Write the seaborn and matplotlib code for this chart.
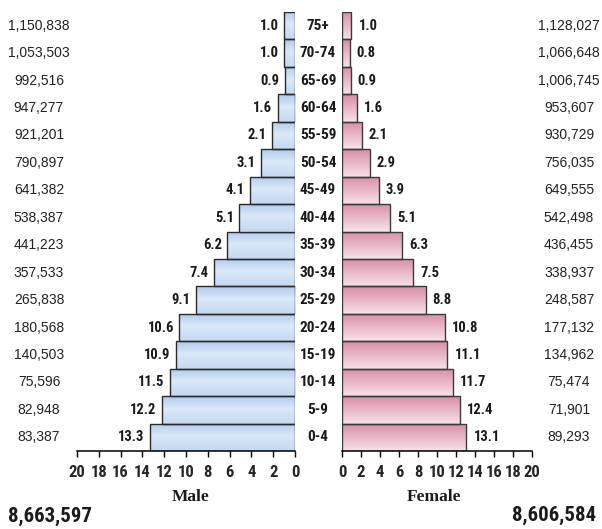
import matplotlib
matplotlib.use("Agg")
import matplotlib.pyplot as plt
import matplotlib.transforms as mtransforms
import matplotlib.font_manager as fm
import numpy as np
import pandas as pd
import seaborn as sns

ages = ["75+", "70-74", "65-69", "60-64", "55-59", "50-54", "45-49", "40-44",
        "35-39", "30-34", "25-29", "20-24", "15-19", "10-14", "5-9", "0-4"]
male_pct = [1.0, 1.0, 0.9, 1.6, 2.1, 3.1, 4.1, 5.1, 6.2, 7.4, 9.1, 10.6, 10.9, 11.5, 12.2, 13.3]
female_pct = [1.0, 0.8, 0.9, 1.6, 2.1, 2.9, 3.9, 5.1, 6.3, 7.5, 8.8, 10.8, 11.1, 11.7, 12.4, 13.1]
male_pop = ["1,150,838", "1,053,503", "992,516", "947,277", "921,201", "790,897", "641,382",
            "538,387", "441,223", "357,533", "265,838", "180,568", "140,503", "75,596",
            "82,948", "83,387"]
female_pop = ["1,128,027", "1,066,648", "1,006,745", "953,607", "930,729", "756,035", "649,555",
              "542,498", "436,455", "338,937", "248,587", "177,132", "134,962", "75,474",
              "71,901", "89,293"]
male_total = "8,663,597"
female_total = "8,606,584"
ticks = [0, 2, 4, 6, 8, 10, 12, 14, 16, 18, 20]

sns.set_style("white")

# pick a condensed sans if one is installed
installed = {f.name for f in fm.fontManager.ttflist}
narrow = None
for cand in ["Liberation Sans Narrow", "Roboto Condensed", "Arial Narrow",
             "Open Sans Condensed", "Noto Sans Condensed"]:
    if cand in installed:
        narrow = cand
        break
if narrow:
    NARROW = [narrow, "Liberation Sans", "DejaVu Sans"]
    fs_tick, fs_age, fs_val, fs_tot = 12, 11, 10.5, 15
else:
    NARROW = ["Liberation Sans", "DejaVu Sans"]
    fs_tick, fs_age, fs_val, fs_tot = 9.8, 10, 10, 14
plt.rcParams["font.family"] = NARROW

W, H = 602, 529
fig = plt.figure(figsize=(W / 100, H / 100), dpi=100)

def fx(px):
    return px / W

def fy(py):
    return 1 - py / H

top_px, bot_px = 12, 451
ax1 = fig.add_axes([fx(77), fy(bot_px), fx(295) - fx(77), fy(top_px) - fy(bot_px)])
ax2 = fig.add_axes([fx(342), fy(bot_px), fx(532) - fx(342), fy(top_px) - fy(bot_px)])

df = pd.DataFrame({"age": ages, "male": male_pct, "female": female_pct})

sns.barplot(data=df, x="male", y="age", orient="h", ax=ax1, color="#c8dcf2",
            width=1.0, edgecolor="#2a2a2a", linewidth=1.0)
sns.barplot(data=df, x="female", y="age", orient="h", ax=ax2, color="#e8b8c8",
            width=1.0, edgecolor="#3a3a3a", linewidth=1.0)

def hex2rgb(h):
    h = h.lstrip("#")
    return np.array([int(h[i:i + 2], 16) / 255 for i in (0, 2, 4)])

def make_grad(stops, n=64):
    pos = np.array([s[0] for s in stops])
    cols = np.array([hex2rgb(s[1]) for s in stops])
    t = np.linspace(0, 1, n)
    out = np.stack([np.interp(t, pos, cols[:, k]) for k in range(3)], axis=1)
    return out[:, None, :]

male_grad = make_grad([(0, "#b0cbec"), (0.45, "#dbe8f8"), (1, "#c4d9f1")])
female_grad = make_grad([(0, "#d98ea8"), (1, "#f6e1e9")])

for ax, grad in ((ax1, male_grad), (ax2, female_grad)):
    for p in list(ax.patches):
        x0, y0, w, h = p.get_x(), p.get_y(), p.get_width(), p.get_height()
        im = ax.imshow(grad, extent=(x0, x0 + w, y0 + h, y0), origin="upper",
                       aspect="auto", zorder=p.get_zorder() - 0.1, interpolation="bilinear")
        im.set_clip_path(p)
        p.set_facecolor("none")

ax1.set_xlim(20, 0)
ax2.set_xlim(0, 20)
for ax in (ax1, ax2):
    ax.set_ylim(len(ages) - 0.5, -0.5)
    ax.set_xticks(ticks)
    ax.set_xticklabels([str(t) for t in ticks], fontsize=fs_tick, fontweight="bold")
    ax.tick_params(axis="x", direction="out", length=4, width=1.0, pad=6, color="black",
                   bottom=True)
    ax.tick_params(axis="y", left=False, labelleft=False)
    ax.set_ylabel("")
    ax.set_xlabel("")
    for s in ("top", "left", "right"):
        ax.spines[s].set_visible(False)
    ax.spines["bottom"].set_color("black")
    ax.spines["bottom"].set_linewidth(1.1)
    ax.patch.set_alpha(0)

# value labels
for i, v in enumerate(male_pct):
    ax1.annotate(f"{v:.1f}", xy=(v, i), xytext=(-4, 0), textcoords="offset points",
                 ha="right", va="center", fontsize=fs_val, fontweight="bold", color="#1a1a1a")
for i, v in enumerate(female_pct):
    ax2.annotate(f"{v:.1f}", xy=(v, i), xytext=(5, 0), textcoords="offset points",
                 ha="left", va="center", fontsize=fs_val, fontweight="bold", color="#1a1a1a")

# age labels and population columns
tr = mtransforms.blended_transform_factory(fig.transFigure, ax1.transData)
for i, a in enumerate(ages):
    fig.text(fx(318), i, a, transform=tr, ha="center", va="center",
             fontsize=fs_age, fontweight="bold", color="#1a1a1a")
    fig.text(fx(39), i, male_pop[i], transform=tr, ha="center", va="center",
             fontsize=10, family=["Liberation Sans", "DejaVu Sans"], color="#222222")
    fig.text(fx(569), i, female_pop[i], transform=tr, ha="center", va="center",
             fontsize=10, family=["Liberation Sans", "DejaVu Sans"], color="#222222")

fig.text(fx(191), fy(497), "Male", ha="center", va="center", fontsize=12.5,
         fontweight="bold", family=["Liberation Serif", "DejaVu Serif"], color="#1a1a1a")
fig.text(fx(434), fy(497), "Female", ha="center", va="center", fontsize=12.5,
         fontweight="bold", family=["Liberation Serif", "DejaVu Serif"], color="#1a1a1a")
fig.text(fx(8), fy(516), male_total, ha="left", va="center", fontsize=fs_tot,
         fontweight="bold", color="#1a1a1a")
fig.text(fx(596), fy(515), female_total, ha="right", va="center", fontsize=fs_tot,
         fontweight="bold", color="#1a1a1a")

fig.savefig("out.png", dpi=100, facecolor="white")
